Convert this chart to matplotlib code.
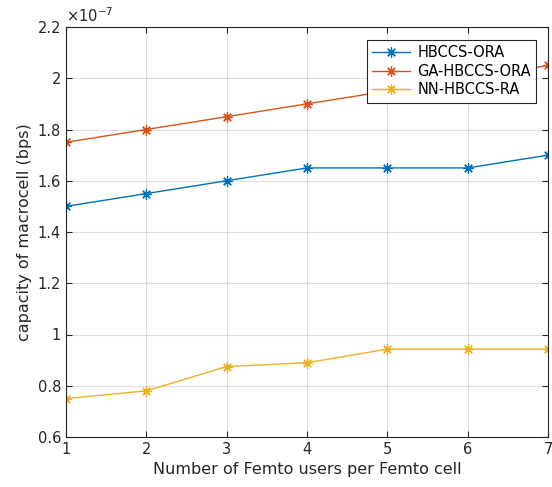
import matplotlib.pyplot as plt
import numpy as np

users = [1, 2, 3, 4, 5, 6, 7]
hbccs_ora = [1.5, 1.55, 1.6, 1.65, 1.65, 1.65, 1.7]
ga_hbccs_ora = [1.75, 1.8, 1.85, 1.9, 1.95, 2.0, 2.05]
nn_hbccs_ra = [0.75, 0.78, 0.875, 0.89, 0.943, 0.943, 0.943]
series_names = ['HBCCS-ORA', 'GA-HBCCS-ORA', 'NN-HBCCS-RA']
yticks = [0.6, 0.8, 1.0, 1.2, 1.4, 1.6, 1.8, 2.0, 2.2]

colors = ['#0072bd', '#d95319', '#edb120']
txt = '#262626'


def main():
    fig = plt.figure(figsize=(5.52, 4.87), dpi=100)
    ax = fig.add_axes([66 / 552, 50 / 487, 482 / 552, 410 / 487])

    for vals, name, c in zip([hbccs_ora, ga_hbccs_ora, nn_hbccs_ra], series_names, colors):
        ax.plot(users, vals, color=c, lw=1.0, marker=(8, 2, 0), ms=7.5, mew=0.9, label=name)

    ax.set_xlim(1, 7)
    ax.set_ylim(0.6, 2.2)
    ax.set_xticks(users)
    ax.set_yticks(yticks)
    ax.set_yticklabels(['%g' % v for v in yticks])
    ax.grid(True, color='#262626', alpha=0.15, lw=0.8)
    ax.tick_params(direction='in', top=True, right=True, labelsize=10.5, colors=txt, length=4)
    for s in ax.spines.values():
        s.set_color(txt)
        s.set_linewidth(0.8)

    ax.set_xlabel('Number of Femto users per Femto cell', fontsize=11.5, color=txt)
    ax.set_ylabel('capacity of macrocell (bps)', fontsize=11.5, color=txt)
    ax.text(0.0, 1.005, r'$\times10^{-7}$', transform=ax.transAxes, fontsize=10.5,
            color=txt, ha='left', va='bottom')

    leg = ax.legend(loc='upper right', bbox_to_anchor=(536 / 552, 1 - 40 / 487),
                    bbox_transform=fig.transFigure, fontsize=10.5, frameon=True,
                    framealpha=1, fancybox=False, edgecolor=txt, borderpad=0.35,
                    labelspacing=0.25, handlelength=2.6, handletextpad=0.5,
                    borderaxespad=0)
    leg.get_frame().set_linewidth(0.8)

    fig.savefig('out.png', dpi=100)


if __name__ == '__main__':
    main()
